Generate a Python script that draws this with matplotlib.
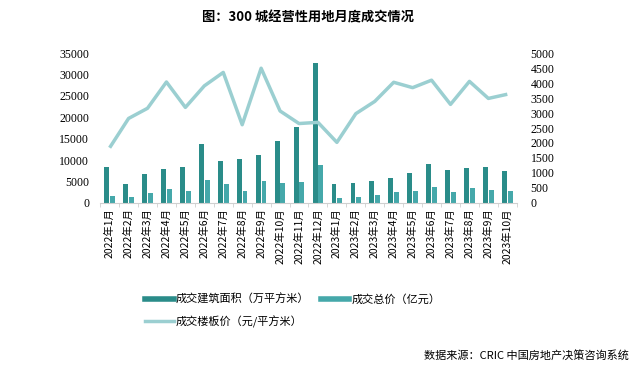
import matplotlib
matplotlib.use("Agg")
import matplotlib.pyplot as plt
from matplotlib.lines import Line2D
import numpy as np

plt.rcParams['font.family'] = ['Noto Sans CJK SC', 'DejaVu Sans']

months = ['2022年1月', '2022年2月', '2022年3月', '2022年4月', '2022年5月', '2022年6月',
          '2022年7月', '2022年8月', '2022年9月', '2022年10月', '2022年11月', '2022年12月',
          '2023年1月', '2023年2月', '2023年3月', '2023年4月', '2023年5月', '2023年6月',
          '2023年7月', '2023年8月', '2023年9月', '2023年10月']
area = [8400, 4400, 6700, 7900, 8400, 13750, 9750, 10200, 11150, 14450, 17700, 32700,
        4400, 4600, 5100, 5800, 6950, 9050, 7650, 8150, 8350, 7400]
total = [1650, 1400, 2250, 3200, 2750, 5300, 4350, 2750, 5100, 4600, 4850, 8800,
         1100, 1400, 1900, 2500, 2750, 3750, 2500, 3450, 2950, 2750]
price = [1840, 2820, 3160, 4040, 3190, 3910, 4360, 2610, 4500, 3070, 2650, 2690,
         2020, 2980, 3390, 4030, 3850, 4100, 3290, 4060, 3490, 3630]
labels = ['成交建筑面积（万平方米）', '成交总价（亿元）', '成交楼板价（元/平方米）']

c_area = '#2a8c89'
c_total = '#45a8aa'
c_price = '#9bcfd1'

fig = plt.figure(figsize=(6.38, 3.70), dpi=100)
ax = fig.add_axes([0.157, 0.452, 0.653, 0.404])
ax2 = ax.twinx()

x = np.arange(len(months))
w = 0.26
ax.bar(x - 0.15, area, w, color=c_area, zorder=2)
ax.bar(x + 0.15, total, w, color=c_total, zorder=2)
ax2.plot(x, price, color=c_price, lw=2.5, solid_capstyle='butt')

ax.set_xlim(-0.5, len(months) - 0.5)
ax.set_ylim(0, 35000)
ax.set_yticks(range(0, 35001, 5000))
ax2.set_ylim(0, 5000)
ax2.set_yticks(range(0, 5001, 500))

ax.set_xticks(x)
ax.set_xticklabels(months, rotation=90, fontsize=7.5)
ax.tick_params(axis='x', length=0, pad=4)
# small tick marks between categories
ax.set_xticks(np.arange(-0.5, len(months), 1), minor=True)
ax.tick_params(axis='x', which='minor', length=3, color='#d0d0d0')

for a in (ax, ax2):
    for s in a.spines.values():
        s.set_visible(False)
    a.tick_params(axis='y', length=0, labelsize=8.5, labelfontfamily='Liberation Serif')
ax.spines['bottom'].set_visible(True)
ax.spines['bottom'].set_color('#d0d0d0')
ax.tick_params(axis='y', pad=8)
ax2.tick_params(axis='y', pad=10)

fig.text(0.483, 0.953, '图：300 城经营性用地月度成交情况', ha='center', va='center',
         fontsize=9.5, fontweight='bold')

# column-wise fill: area + price in column 1, total in column 2
handles = [Line2D([0], [0], color=c_area, lw=4), Line2D([0], [0], color=c_price, lw=2.5),
           Line2D([0], [0], color=c_total, lw=4)]
fig.legend(handles, [labels[0], labels[2], labels[1]], loc='upper left',
           bbox_to_anchor=(0.22, 0.218), ncol=2, frameon=False, fontsize=8,
           handlelength=2.6, handletextpad=0.2, columnspacing=1.0,
           labelspacing=0.95, borderaxespad=0)

fig.text(0.985, 0.04, '数据来源：CRIC 中国房地产决策咨询系统', ha='right', va='center', fontsize=8)

fig.savefig('out.png', dpi=100)
